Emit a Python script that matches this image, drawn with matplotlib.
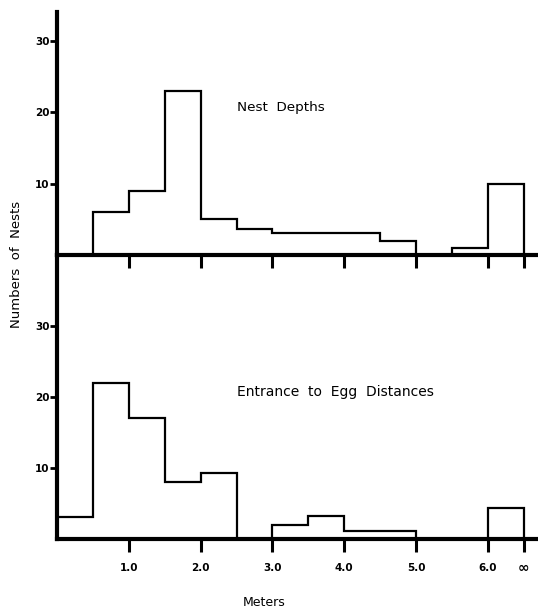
import matplotlib
matplotlib.use("Agg")
import matplotlib.pyplot as plt
import matplotlib.transforms as mtransforms

# ---- data ----
bin_edges = [0.0, 0.5, 1.0, 1.5, 2.0, 2.5, 3.0, 3.5, 4.0, 4.5, 5.0, 5.5, 6.0, 6.5]
# Nest depths (bins 0.5 .. 6.5 ; last bin = infinity)
nest_depth_counts = [6, 9, 23, 5, 3.7, 3.1, 3.1, 3.1, 2, 0, 1, 10]
# Entrance to egg distances (bins 0 .. 6.5)
egg_dist_counts = [3.1, 22, 17, 8, 9.3, 0, 2, 3.3, 1.1, 1.1, 0, 0, 4.3]
x_tick_pos = [1.0, 2.0, 3.0, 4.0, 5.0, 6.0, 6.5]
x_tick_labels = ["1.0", "2.0", "3.0", "4.0", "5.0", "6.0", ""]
inf_label = "\u221e"
y_ticks = [10, 20, 30]
y_tick_labels = ["10", "20", "30"]

W, H = 538, 611
fig = plt.figure(figsize=(W / 100, H / 100), dpi=100)

def fx(px):
    return px / W

def fy(py):
    return (H - py) / H

left = fx(57)
ax1 = fig.add_axes([left, fy(255), 1 - left, fy(12) - fy(255)])
ax2 = fig.add_axes([left, fy(539), 1 - left, fy(255) - fy(539)])

xmax = (538 - 57) / 71.8
ax1.set_xlim(0, xmax)
ax2.set_xlim(0, xmax)
ax1.set_ylim(0, 243 / 7.13)
ax2.set_ylim(0, 284 / 7.1)

ax1.stairs(nest_depth_counts, bin_edges[1:], baseline=0, color="black", lw=1.6)
ax2.stairs(egg_dist_counts, bin_edges, baseline=0, color="black", lw=1.6)

for ax in (ax1, ax2):
    for s in ("top", "right"):
        ax.spines[s].set_visible(False)
    for s in ("left", "bottom"):
        ax.spines[s].set_linewidth(3.0)
        ax.spines[s].set_zorder(5)
    ax.set_yticks(y_ticks)
    ax.set_yticklabels(y_tick_labels, fontsize=7.5, fontweight="bold")
    ax.tick_params(axis="y", length=5, width=2, pad=0.5)
    ax.set_xticks(x_tick_pos)
    ax.tick_params(axis="x", length=9, width=2.2, direction="out")
    ax.patch.set_visible(False)

ax1.set_xticklabels([])
ax2.set_xticklabels(x_tick_labels, fontsize=7.5, fontweight="bold")
ax2.tick_params(axis="x", pad=8)
trans = mtransforms.blended_transform_factory(ax2.transData, ax2.transAxes)
ax2.text(x_tick_pos[-1], -0.102, inf_label, transform=trans, fontsize=10,
         fontweight="bold", ha="center", va="center")

fig.text(fx(237), fy(108), "Nest  Depths", fontsize=9.7, ha="left", va="center")
fig.text(fx(237), fy(392), "Entrance  to  Egg  Distances", fontsize=10,
         ha="left", va="center")
fig.text(fx(17), fy(264), "Numbers  of  Nests", fontsize=9.5, rotation=90,
         ha="center", va="center")
fig.text(fx(264), fy(602), "Meters", fontsize=9, ha="center", va="center")

fig.savefig("out.png", dpi=100)
